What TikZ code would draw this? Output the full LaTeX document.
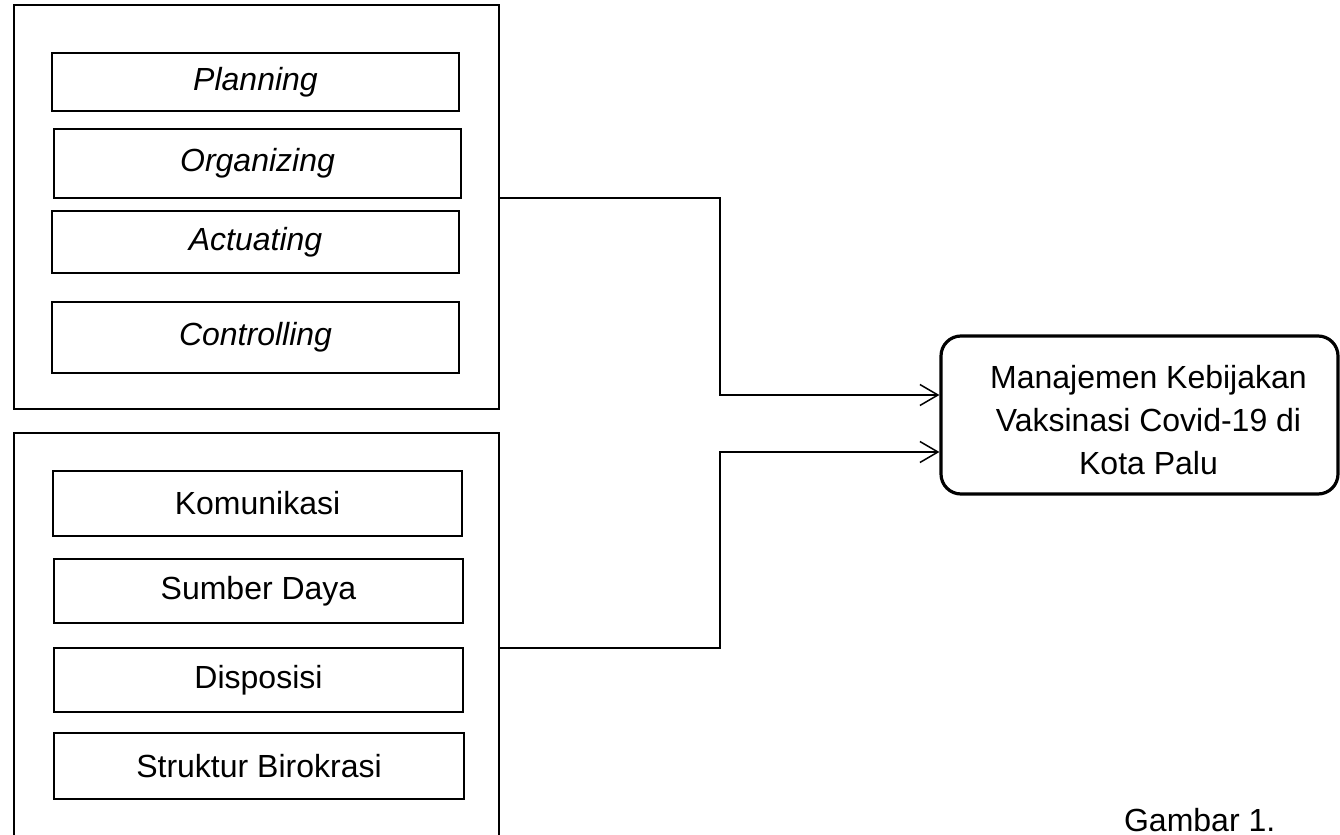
\documentclass[tikz,border=0pt]{standalone}
\usepackage{fontspec}
\setmainfont{Liberation Sans}
\usetikzlibrary{arrows.meta}

\begin{document}
\begin{tikzpicture}[x=0.5pt,y=-0.5pt,
  group/.style={draw,line width=0.7pt,inner sep=0,minimum width=242.5pt},
  item/.style={draw,line width=0.7pt,inner sep=0,minimum width=203.5pt,font=\fontsize{16}{19}\selectfont},
  target/.style={draw,line width=1.6pt,rounded corners=10pt,inner sep=0,minimum width=198.5pt,minimum height=79pt,font=\fontsize{16}{21.5}\selectfont},
  conn/.style={line width=0.7pt,-{Straight Barb[length=9pt,width=10.5pt,line width=0.75pt]}},
]
  \useasboundingbox (0,0) rectangle (1340,835);
  \clip (0,0) rectangle (1340,835);

  \node[group,minimum height=202pt] (topgroup) at (256.5,207) {};
  \node[item,line width=1.1pt,minimum height=29pt] (planning) at (255.5,82) {\itshape Planning};
  \node[item,minimum height=34.5pt] (organizing) at (257.5,163.5) {\itshape Organizing};
  \node[item,minimum height=31pt] (actuating) at (255.5,242) {\itshape Actuating};
  \node[item,minimum height=35.5pt] (controlling) at (255.5,337.5) {\itshape Controlling};

  \node[group,minimum height=240pt] (botgroup) at (256.5,673) {};
  \node[item,minimum width=204.5pt,minimum height=32.5pt] (komunikasi) at (257.5,503.5) {Komunikasi};
  \node[item,minimum width=204.5pt,minimum height=32pt] (sumberdaya) at (258.5,591) {Sumber Daya};
  \node[item,minimum width=204.5pt,minimum height=32pt] (disposisi) at (258.5,680) {Disposisi};
  \node[item,minimum width=205pt,minimum height=33pt] (struktur) at (259,766) {Struktur Birokrasi};

  \node[target] (kebijakan) at (1139.5,415) {\hspace*{9pt}\raisebox{-4pt}[\height][\depth]{\begin{tabular}{@{}c@{}}Manajemen Kebijakan\\Vaksinasi Covid-19 di\\Kota Palu\end{tabular}}};

  \node[anchor=base west,font=\fontsize{16}{19}\selectfont] (caption) at (1117,831) {Gambar 1.};

  \coordinate (bendA) at (720,198);
  \coordinate (bendB) at (720,648);
  \draw[conn] (topgroup.east |- bendA) -- (bendA) |- ([yshift=10pt]kebijakan.west);
  \draw[conn] (botgroup.east |- bendB) -- (bendB) |- ([yshift=-18.5pt]kebijakan.west);
\end{tikzpicture}
\end{document}
